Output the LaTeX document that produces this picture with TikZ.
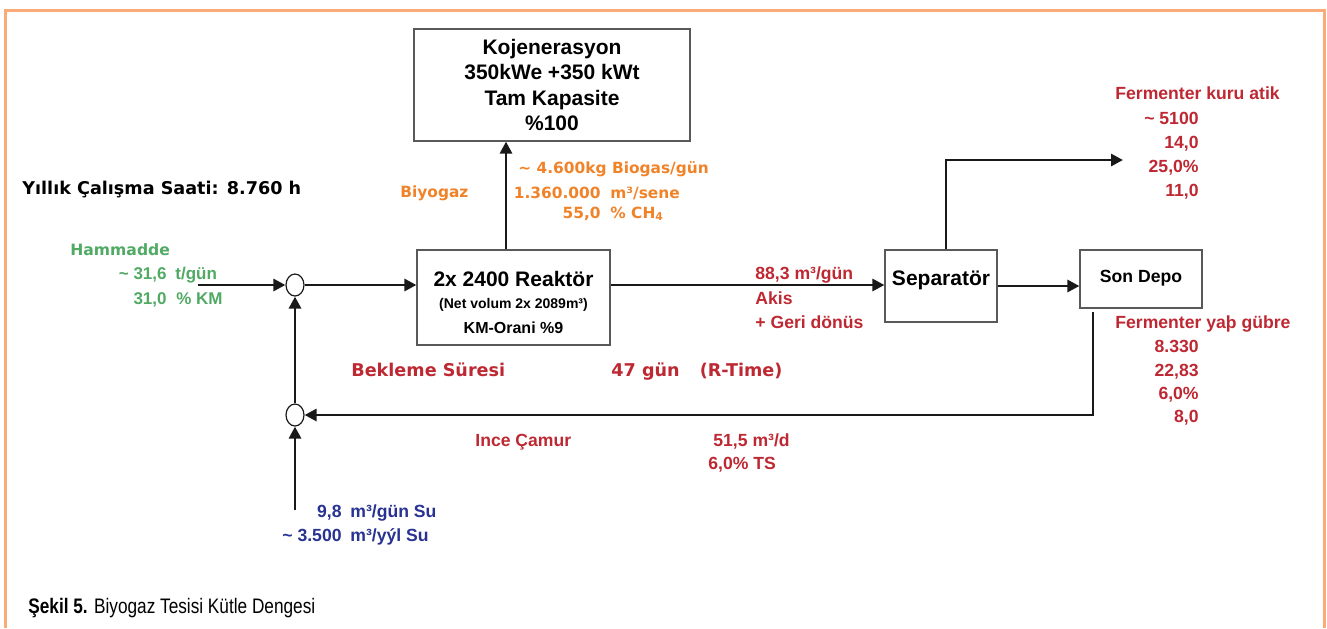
\documentclass[tikz,border=0pt]{standalone}
\usepackage{fontspec}
\setmainfont{Liberation Sans}
\newfontfamily\vfont{DejaVu Sans}
\newfontfamily\capfont{Liberation Sans}[FakeStretch=0.82]
\usetikzlibrary{shapes.geometric, arrows.meta, positioning}
\newcommand{\fsz}[1]{\fontsize{#1}{#1}\selectfont}
\definecolor{frameor}{RGB}{250,172,120}
\definecolor{gasor}{RGB}{240,130,40}
\definecolor{hamgr}{RGB}{80,170,100}
\definecolor{flowrd}{RGB}{190,40,50}
\definecolor{subl}{RGB}{40,50,145}
\tikzstyle{unit} = [rectangle, draw=black!65, line width=0.6pt, align=center, inner sep=0pt]
\tikzstyle{junc} = [ellipse, draw=black!90, line width=0.6pt, fill=white, minimum width=9pt, minimum height=11pt, inner sep=0pt]
\tikzstyle{arrow} = [line width=1.45pt, draw=black!90, -{Triangle[length=6pt,width=6pt]}]
\tikzstyle{gaslab} = [inner sep=0pt, text=gasor, font=\vfont\bfseries\fsz{7.7}]
\tikzstyle{hamlab} = [inner sep=0pt, text=hamgr, font=\bfseries\fsz{8.5}]
\tikzstyle{redlab} = [inner sep=0pt, text=flowrd, font=\bfseries\fsz{8.8}]
\tikzstyle{sulab} = [inner sep=0pt, text=subl, font=\bfseries\fsz{8.8}]
\tikzstyle{notelab} = [inner sep=0pt, font=\vfont\bfseries\fsz{8.8}]
\begin{document}
\begin{tikzpicture}[x=0.5pt, y=-0.5pt, node distance=65pt]
\useasboundingbox (0,0) rectangle (1327,628);
\draw [frameor, line width=1.5pt] (5,628) -- (5,10) -- (1324,10) -- (1324,628);
% units
\node (koj) [unit, minimum width=138pt, minimum height=56pt, font=\bfseries\fontsize{10.5}{12.6}\selectfont] at (552,85) {Kojenerasyon\\350kWe +350 kWt\\Tam Kapasite\\\%100};
\node (reak) [unit, minimum width=96.5pt, minimum height=47.5pt, font=\bfseries\fontsize{8}{11}\selectfont] at (513.5,297.5) {{\fontsize{10.5}{11}\selectfont\rule{0pt}{12.5pt}2x 2400 Reaktör}\\{\fontsize{7}{11}\selectfont (Net volum 2x 2089m³)}\\[1.5pt]KM-Orani \%9};
\node (sep) [unit, minimum width=56pt, text height=17.75pt, text depth=18.25pt, font=\bfseries\fsz{10.5}] at (941,286) {Separatör};
\node (depo) [unit, minimum width=61pt, text height=16.15pt, text depth=12.85pt, font=\bfseries\fsz{8.8}] at (1141,279) {Son Depo};
\node (j1) [junc] at (295,285) {};
\node (j2) [junc, below of=j1] {};
\coordinate (ham) at (198,285);
\coordinate (rtop) at ([xshift=-3.75pt]reak.north);
\coordinate (kuru) at (1123,160);
\coordinate (dout) at (1093,312);
\coordinate (su) at (295,510);
% flows
\draw [arrow] (ham) -- (j1);
\draw [arrow] (j1) -- (j1 -| reak.west);
\draw [arrow] (rtop) -- (rtop |- koj.south);
\draw [arrow] (reak.east |- j1) -- (j1 -| sep.west);
\draw [arrow] ([xshift=2.5pt]sep.north) |- (kuru);
\draw [arrow] (sep.east) -- (sep.east -| depo.west);
\draw [arrow] (dout) |- (j2);
\draw [arrow] (j2) -- (j1);
\draw [arrow] (su) -- (j2);
% labels
\node (yil) [notelab, anchor=base west] at (22,194) {Yıllık Çalışma Saati: 8.760 h};
\node (biyo) [gaslab, anchor=base west] at (400,197) {Biyogaz};
\node (gas1) [gaslab, anchor=base west] at (518,173) {\textasciitilde\ 4.600kg Biogas/gün};
\node (gas2n) [gaslab, anchor=base east] at (601,198) {1.360.000};
\node (gas2u) [gaslab, anchor=base west] at (610,198) {m³/sene};
\node (gas3n) [gaslab, anchor=base east] at (601,218) {55,0};
\node (gas3u) [gaslab, anchor=base west] at (610,218) {\% CH\textsubscript{4}};
\node (hamt) [hamlab, anchor=base west, font=\vfont\bfseries\fsz{7.8}] at (70,255) {Hammadde};
\node (ham1n) [hamlab, anchor=base east] at (167,279) {\textasciitilde\ 31,6};
\node (ham1u) [hamlab, anchor=base west] at (175,279) {t/gün};
\node (ham2n) [hamlab, anchor=base east] at (167,304) {31,0};
\node (ham2u) [hamlab, anchor=base west] at (176,304) {\% KM};
\node (akis1) [redlab, anchor=base west] at (755,279) {88,3 m³/gün};
\node (akis2) [redlab, anchor=base west] at (755,304) {Akis};
\node (akis3) [redlab, anchor=base west] at (755,328) {+ Geri dönüs};
\node (bek) [notelab, text=flowrd, anchor=base west] at (351,376.5) {Bekleme Süresi};
\node (rtime) [notelab, text=flowrd, anchor=base west] at (611,376) {47 gün\hspace{1.14em}(R-Time)};
\node (kurut) [redlab, anchor=base west] at (1115,99) {Fermenter kuru atik};
\node (kuru1) [redlab, anchor=base east] at (1199,124) {\textasciitilde\ 5100};
\node (kuru2) [redlab, anchor=base east] at (1199,148.3) {14,0};
\node (kuru3) [redlab, anchor=base east] at (1199,172.7) {25,0\%};
\node (kuru4) [redlab, anchor=base east] at (1199,196.7) {11,0};
\node (yast) [redlab, anchor=base west] at (1115,328.3) {Fermenter yaþ gübre};
\node (yas1) [redlab, anchor=base east] at (1199,352.7) {8.330};
\node (yas2) [redlab, anchor=base east] at (1199,376) {22,83};
\node (yas3) [redlab, anchor=base east] at (1199,399.3) {6,0\%};
\node (yas4) [redlab, anchor=base east] at (1199,422.7) {8,0};
\node (camt) [redlab, anchor=base west] at (475,446) {Ince Çamur};
\node (cam1) [redlab, anchor=base west] at (713,446) {51,5 m³/d};
\node (cam2) [redlab, anchor=base west] at (708,469.3) {6,0\% TS};
\node (su1n) [sulab, anchor=base east] at (342,517.3) {9,8};
\node (su1u) [sulab, anchor=base west] at (350,517.3) {m³/gün Su};
\node (su2n) [sulab, anchor=base east] at (342,541.7) {\textasciitilde\ 3.500};
\node (su2u) [sulab, anchor=base west] at (350,541.7) {m³/yýl Su};
\node (cap) [inner sep=0pt, anchor=base west, font=\capfont\fsz{10.5}] at (28,613) {\textbf{Şekil 5.} Biyogaz Tesisi Kütle Dengesi};
\end{tikzpicture}
\end{document}
